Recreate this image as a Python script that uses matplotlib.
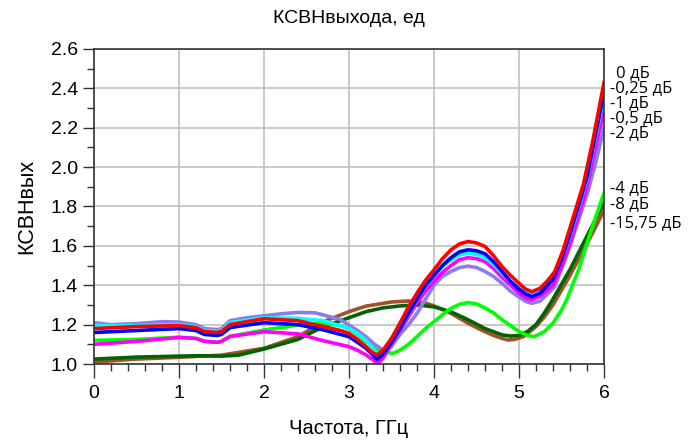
import matplotlib
matplotlib.use("Agg")
import matplotlib.pyplot as plt
from matplotlib.ticker import MultipleLocator
import matplotlib.transforms as mtransforms

plt.rcParams['font.family'] = ['Liberation Sans', 'DejaVu Sans']

# Frequency points (GHz) and output VSWR for each attenuator state
f_red = [0.0, 0.5, 1.0, 1.2, 1.3, 1.45, 1.5, 1.6, 2.0, 2.4, 2.7, 2.8, 2.9, 3.0, 3.1, 3.2, 3.27, 3.33,
         3.4, 3.5, 3.6, 3.7, 3.8, 3.9, 4.0, 4.1, 4.2, 4.3, 4.4, 4.5, 4.6, 4.7, 4.8, 4.9, 5.0, 5.08,
         5.15, 5.25, 5.35, 5.42, 5.52, 5.64, 5.76, 5.87, 6.0]
v_red = [1.18, 1.19, 1.195, 1.185, 1.165, 1.16, 1.165, 1.20, 1.23, 1.22, 1.19, 1.18, 1.17, 1.156, 1.125, 1.088, 1.06, 1.046,
         1.07, 1.13, 1.208, 1.29, 1.36, 1.425, 1.478, 1.535, 1.58, 1.61, 1.622, 1.615, 1.597, 1.55, 1.495, 1.45, 1.41, 1.38,
         1.367, 1.385, 1.43, 1.469, 1.579, 1.748, 1.917, 2.137, 2.43]

f_blue = [0.0, 0.5, 1.0, 1.2, 1.3, 1.45, 1.5, 1.6, 2.0, 2.4, 2.7, 3.0, 3.1, 3.2, 3.27, 3.33,
          3.4, 3.5, 3.6, 3.7, 3.8, 3.9, 4.0, 4.1, 4.2, 4.3, 4.4, 4.5, 4.6, 4.7, 4.8, 4.9, 5.0, 5.08,
          5.15, 5.25, 5.4, 5.5, 5.6, 5.8, 6.0]
v_blue = [1.16, 1.17, 1.18, 1.17, 1.15, 1.145, 1.15, 1.185, 1.21, 1.20, 1.173, 1.139, 1.11, 1.08, 1.05, 1.024,
          1.05, 1.11, 1.18, 1.26, 1.33, 1.40, 1.45, 1.50, 1.54, 1.57, 1.58, 1.575, 1.56, 1.52, 1.47, 1.42, 1.38, 1.355,
          1.342, 1.36, 1.43, 1.53, 1.66, 1.95, 2.38]

f_cyan = [0.0, 0.5, 1.0, 1.2, 1.3, 1.45, 1.5, 1.6, 2.0, 2.4, 2.7, 3.0, 3.1, 3.2, 3.27, 3.33,
          3.4, 3.5, 3.6, 3.7, 3.8, 3.9, 4.0, 4.1, 4.2, 4.3, 4.4, 4.5, 4.6, 4.7, 4.8, 4.9, 5.0, 5.08,
          5.15, 5.25, 5.4, 5.5, 5.6, 5.8, 6.0]
v_cyan = [1.195, 1.195, 1.20, 1.19, 1.17, 1.165, 1.17, 1.21, 1.235, 1.232, 1.22, 1.181, 1.155, 1.12, 1.085, 1.05,
          1.06, 1.11, 1.18, 1.26, 1.33, 1.395, 1.45, 1.495, 1.53, 1.555, 1.563, 1.557, 1.54, 1.505, 1.46, 1.42, 1.39, 1.37,
          1.36, 1.38, 1.44, 1.53, 1.65, 1.94, 2.36]

f_mag = [0.0, 0.5, 1.0, 1.2, 1.3, 1.45, 1.5, 1.6, 2.0, 2.4, 2.7, 3.0, 3.1, 3.2, 3.27, 3.34,
         3.4, 3.5, 3.6, 3.7, 3.8, 3.9, 4.0, 4.1, 4.2, 4.3, 4.4, 4.5, 4.6, 4.7, 4.8, 4.9, 5.0, 5.08,
         5.15, 5.25, 5.4, 5.5, 5.6, 5.8, 6.0]
v_mag = [1.10, 1.115, 1.135, 1.13, 1.115, 1.11, 1.115, 1.14, 1.164, 1.153, 1.118, 1.088, 1.07, 1.046, 1.025, 1.004,
         1.03, 1.10, 1.17, 1.24, 1.31, 1.37, 1.42, 1.465, 1.50, 1.53, 1.54, 1.535, 1.52, 1.485, 1.44, 1.40, 1.36, 1.335,
         1.326, 1.345, 1.40, 1.49, 1.61, 1.90, 2.29]

f_lav = [0.0, 0.2, 0.5, 0.8, 1.0, 1.2, 1.3, 1.45, 1.5, 1.6, 1.8, 2.0, 2.2, 2.4, 2.6, 2.7, 2.9, 3.0,
         3.1, 3.2, 3.3, 3.43, 3.5, 3.6, 3.7, 3.8, 3.9, 4.0, 4.1, 4.2, 4.3, 4.4, 4.5, 4.6, 4.7, 4.8,
         4.9, 5.0, 5.08, 5.15, 5.25, 5.42, 5.6, 5.8, 5.9, 6.0]
v_lav = [1.21, 1.20, 1.205, 1.215, 1.213, 1.20, 1.18, 1.175, 1.18, 1.22, 1.235, 1.245, 1.255, 1.262, 1.26, 1.249, 1.225, 1.198,
         1.17, 1.139, 1.10, 1.063, 1.09, 1.15, 1.20, 1.257, 1.33, 1.40, 1.445, 1.47, 1.49, 1.497, 1.49, 1.47, 1.445, 1.41,
         1.37, 1.34, 1.318, 1.308, 1.32, 1.392, 1.60, 1.86, 2.019, 2.20]

f_grn = [0.0, 0.5, 1.0, 1.2, 1.3, 1.45, 1.5, 1.6, 2.0, 2.4, 2.7, 2.9, 3.0, 3.1, 3.2, 3.3, 3.4, 3.52,
         3.6, 3.7, 3.8, 3.9, 4.0, 4.1, 4.2, 4.3, 4.4, 4.5, 4.6, 4.7, 4.8, 4.9, 5.0, 5.1, 5.18,
         5.3, 5.4, 5.5, 5.56, 5.7, 5.85, 6.0]
v_grn = [1.12, 1.125, 1.136, 1.13, 1.115, 1.11, 1.115, 1.14, 1.173, 1.198, 1.207, 1.195, 1.18, 1.15, 1.113, 1.08, 1.06, 1.054,
         1.07, 1.10, 1.139, 1.18, 1.215, 1.25, 1.283, 1.303, 1.312, 1.305, 1.285, 1.26, 1.225, 1.195, 1.165, 1.145, 1.139,
         1.165, 1.208, 1.274, 1.326, 1.477, 1.68, 1.868]

f_dkg = [0.0, 0.5, 1.0, 1.2, 1.5, 1.7, 2.0, 2.4, 2.7, 3.0, 3.2, 3.4, 3.6, 3.8, 4.0, 4.2,
         4.4, 4.6, 4.8, 4.9, 5.0, 5.1, 5.2, 5.3, 5.4, 5.6, 5.8, 6.0]
v_dkg = [1.025, 1.035, 1.04, 1.042, 1.04, 1.045, 1.076, 1.125, 1.19, 1.235, 1.266, 1.285, 1.295, 1.30, 1.29, 1.265,
         1.225, 1.18, 1.148, 1.142, 1.145, 1.165, 1.20, 1.26, 1.33, 1.48, 1.65, 1.82]

f_brn = [0.0, 0.5, 1.0, 1.5, 2.0, 2.4, 2.7, 3.0, 3.2, 3.5, 3.7, 3.9, 4.0, 4.1, 4.2, 4.3, 4.4, 4.5, 4.6,
         4.7, 4.8, 4.87, 4.95, 5.05, 5.1, 5.2, 5.3, 5.4, 5.6, 5.8, 6.0]
v_brn = [1.01, 1.025, 1.034, 1.045, 1.08, 1.139, 1.215, 1.266, 1.294, 1.315, 1.32, 1.31, 1.295, 1.278, 1.257, 1.232, 1.207, 1.185, 1.164,
         1.145, 1.13, 1.122, 1.125, 1.139, 1.155, 1.19, 1.24, 1.30, 1.45, 1.61, 1.78]

# Curve labels at the right edge and their vertical positions
state_labels = ["0 дБ", "-0,25 дБ", "-1 дБ", "-0,5 дБ", "-2 дБ", "-4 дБ", "-8 дБ", "-15,75 дБ"]
label_y = [2.479, 2.403, 2.327, 2.251, 2.172, 1.892, 1.811, 1.718]

fig = plt.figure(figsize=(6.99, 4.40), dpi=100)
ax = fig.add_axes([94 / 699, 76 / 440, 510 / 699, 315 / 440])

lw = 2.6
ax.plot(f_brn, v_brn, color="#A0522D", lw=lw)
ax.plot(f_dkg, v_dkg, color="#006400", lw=lw)
ax.plot(f_grn, v_grn, color="#00FF00", lw=lw)
ax.plot(f_lav, v_lav, color="#8A7CF0", lw=lw)
ax.plot(f_mag, v_mag, color="#FF00FF", lw=lw)
ax.plot(f_cyan, v_cyan, color="#00FFFF", lw=lw)
ax.plot(f_blue, v_blue, color="#0000FF", lw=lw)
ax.plot(f_red, v_red, color="#FF0000", lw=lw)

ax.set_xlim(0, 6)
ax.set_ylim(1.0, 2.6)
ax.xaxis.set_major_locator(MultipleLocator(1))
ax.xaxis.set_minor_locator(MultipleLocator(0.2))
ax.yaxis.set_major_locator(MultipleLocator(0.2))
ax.yaxis.set_minor_locator(MultipleLocator(0.1))
ax.yaxis.set_major_formatter(plt.FuncFormatter(lambda v, p: f"{v:.1f}"))
ax.grid(True, which="major", color="#C0C0C0", lw=1.2)
ax.set_axisbelow(True)

ax.tick_params(axis="both", which="major", direction="out", length=8, width=1, labelsize=14, color="#333333")
ax.tick_params(axis="both", which="minor", direction="out", length=5, width=1, color="#333333")
ax.tick_params(axis="x", which="major", length=10, pad=5)
for s in ax.spines.values():
    s.set_color("#333333")
    s.set_linewidth(1.2)

ax.set_title("КСВНвыхода, ед", fontsize=14, pad=19)
ax.set_xlabel("Частота, ГГц", fontsize=14.5, labelpad=12)
ax.set_ylabel("КСВНвых", fontsize=15.5, labelpad=10)

trans = mtransforms.blended_transform_factory(ax.transAxes, ax.transData)
for i, (txt, yv) in enumerate(zip(state_labels, label_y)):
    xoff = 1.0235 if i == 0 else 1.0118
    ax.text(xoff, yv, txt, transform=trans, fontsize=12, family=["Open Sans", "DejaVu Sans"],
            va="center", ha="left", clip_on=False)

fig.savefig("out.png", dpi=100)
